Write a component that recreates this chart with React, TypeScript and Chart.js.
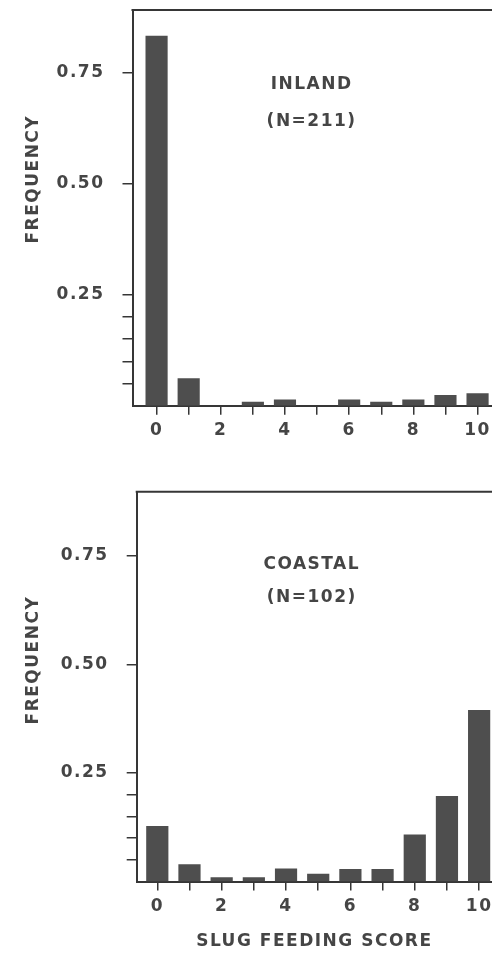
import React, { useEffect, useRef } from 'react';
import { Chart, registerables } from 'chart.js';

Chart.register(...registerables);

// ---- data ----
const scores = [0, 1, 2, 3, 4, 5, 6, 7, 8, 9, 10];
const inlandFreq = [0.833, 0.062, 0, 0.009, 0.014, 0, 0.014, 0.009, 0.014, 0.024, 0.028];
const coastalFreq = [0.128, 0.04, 0.01, 0.01, 0.03, 0.018, 0.029, 0.029, 0.108, 0.197, 0.395];
const yTickValues = [0.05, 0.1, 0.15, 0.2, 0.25, 0.5, 0.75];
const yLabeledTicks = [0.25, 0.5, 0.75];
const xLabeledTicks = [0, 2, 4, 6, 8, 10];
const inlandLabel = ['INLAND', '(N=211)'];
const coastalLabel = ['COASTAL', '(N=102)'];
const yAxisTitle = 'FREQUENCY';
const xAxisTitle = 'SLUG FEEDING SCORE';

// ---- style ----
const FONT = 'DejaVu Sans';
const INK = '#363636';
const TEXT = '#454545';
const BAR = '#4e4e4e';
const SPACING = '1.5px';
const FSIZE = 17;

type PanelCfg = {
  values: number[];
  label: string[];
  labelX: number;
  labelY: number[];
  xMin: number;
  xMax: number;
  yMax: number;
  padTop: number;
  axisWidth: number;
  xAxisHeight: number;
  xTickPad: number;
  showXTitle: boolean;
};

function makeChart(canvas: HTMLCanvasElement, cfg: PanelCfg) {
  const decor = {
    id: 'decor',
    beforeUpdate(chart: any) {
      chart.ctx.letterSpacing = SPACING;
    },
    beforeDraw(chart: any) {
      chart.ctx.letterSpacing = SPACING;
    },
    afterDraw(chart: any) {
      const { ctx, chartArea, scales } = chart;
      ctx.save();
      ctx.letterSpacing = SPACING;
      // top frame line
      ctx.strokeStyle = INK;
      ctx.lineWidth = 2;
      ctx.beginPath();
      ctx.moveTo(chartArea.left - 1, chartArea.top);
      ctx.lineTo(chartArea.right, chartArea.top);
      ctx.stroke();
      // panel label
      ctx.fillStyle = TEXT;
      ctx.font = `bold ${FSIZE}px "${FONT}"`;
      ctx.textAlign = 'center';
      ctx.textBaseline = 'middle';
      cfg.label.forEach((t, i) => {
        ctx.fillText(t, scales.x.getPixelForValue(cfg.labelX), scales.y.getPixelForValue(cfg.labelY[i]));
      });
      // y axis title
      ctx.translate(34, scales.y.getPixelForValue(0.51));
      ctx.rotate(-Math.PI / 2);
      ctx.fillText(yAxisTitle, 0, 0);
      ctx.restore();
    },
  };

  const font = { family: FONT, size: FSIZE, weight: 'bold' };

  return new Chart(canvas, {
    type: 'bar',
    data: {
      datasets: [
        {
          data: scores.map((s, i) => ({ x: s, y: cfg.values[i] })),
          backgroundColor: BAR,
          borderWidth: 0,
          barPercentage: 0.69,
          categoryPercentage: 1,
        },
      ],
    },
    options: {
      animation: false,
      responsive: false,
      layout: { autoPadding: false, padding: { top: cfg.padTop, left: 0, right: 0, bottom: 0 } },
      plugins: { legend: { display: false }, tooltip: { enabled: false }, title: { display: false } },
      scales: {
        x: {
          type: 'linear',
          offset: false,
          min: cfg.xMin,
          max: cfg.xMax,
          afterBuildTicks: (scale: any) => {
            scale.ticks = scores.map((v) => ({ value: v }));
          },
          afterFit: (scale: any) => {
            scale.height = cfg.xAxisHeight;
            scale.paddingLeft = 0;
            scale.paddingRight = 0;
          },
          ticks: {
            autoSkip: false,
            maxRotation: 0,
            padding: cfg.xTickPad,
            color: TEXT,
            font,
            callback: (v: any) => (xLabeledTicks.includes(Number(v)) ? String(v) : ''),
          },
          grid: {
            display: true,
            offset: false,
            drawOnChartArea: false,
            drawTicks: true,
            tickLength: 9,
            color: INK,
            lineWidth: 1.5,
          },
          border: { display: true, color: INK, width: 2 },
          title: {
            display: cfg.showXTitle,
            text: xAxisTitle,
            color: TEXT,
            font,
            padding: { top: 0, bottom: 2.5 },
          },
        },
        y: {
          type: 'linear',
          min: 0,
          max: cfg.yMax,
          afterBuildTicks: (scale: any) => {
            scale.ticks = yTickValues.map((v) => ({ value: v }));
          },
          afterFit: (scale: any) => {
            scale.width = cfg.axisWidth;
            scale.paddingTop = 0;
            scale.paddingBottom = 0;
          },
          ticks: {
            padding: 18,
            color: TEXT,
            font,
            callback: (v: any) => (yLabeledTicks.includes(Number(v)) ? Number(v).toFixed(2) : ''),
          },
          grid: { display: true, drawOnChartArea: false, drawTicks: true, tickLength: 10, color: INK, lineWidth: 1.5 },
          border: { display: true, color: INK, width: 2 },
        },
      },
    },
    plugins: [decor],
  } as any);
}

function Panel({ cfg }: { cfg: PanelCfg }) {
  const ref = useRef<HTMLCanvasElement | null>(null);
  useEffect(() => {
    if (!ref.current) return;
    const chart = makeChart(ref.current, cfg);
    return () => chart.destroy();
  }, []);
  return <canvas ref={ref} width={492} height={477} style={{ display: 'block', width: 492, height: 477 }} />;
}

const topCfg: PanelCfg = {
  values: inlandFreq,
  label: inlandLabel,
  labelX: 4.83,
  labelY: [0.722, 0.639],
  xMin: -0.75,
  xMax: 10.45,
  yMax: 0.891,
  padTop: 10,
  axisWidth: 132.5,
  xAxisHeight: 71.3,
  xTickPad: 5.5,
  showXTitle: false,
};

const bottomCfg: PanelCfg = {
  values: coastalFreq,
  label: coastalLabel,
  labelX: 4.8,
  labelY: [0.729, 0.655],
  xMin: -0.64,
  xMax: 10.4,
  yMax: 0.898,
  padTop: 14.7,
  axisWidth: 136.7,
  xAxisHeight: 72.5,
  xTickPad: 5.5,
  showXTitle: true,
};

export default function App() {
  return (
    <div style={{ position: 'fixed', left: 0, top: 0, width: 492, height: 954, background: '#ffffff', overflow: 'hidden' }}>
      <Panel cfg={topCfg} />
      <Panel cfg={bottomCfg} />
    </div>
  );
}
